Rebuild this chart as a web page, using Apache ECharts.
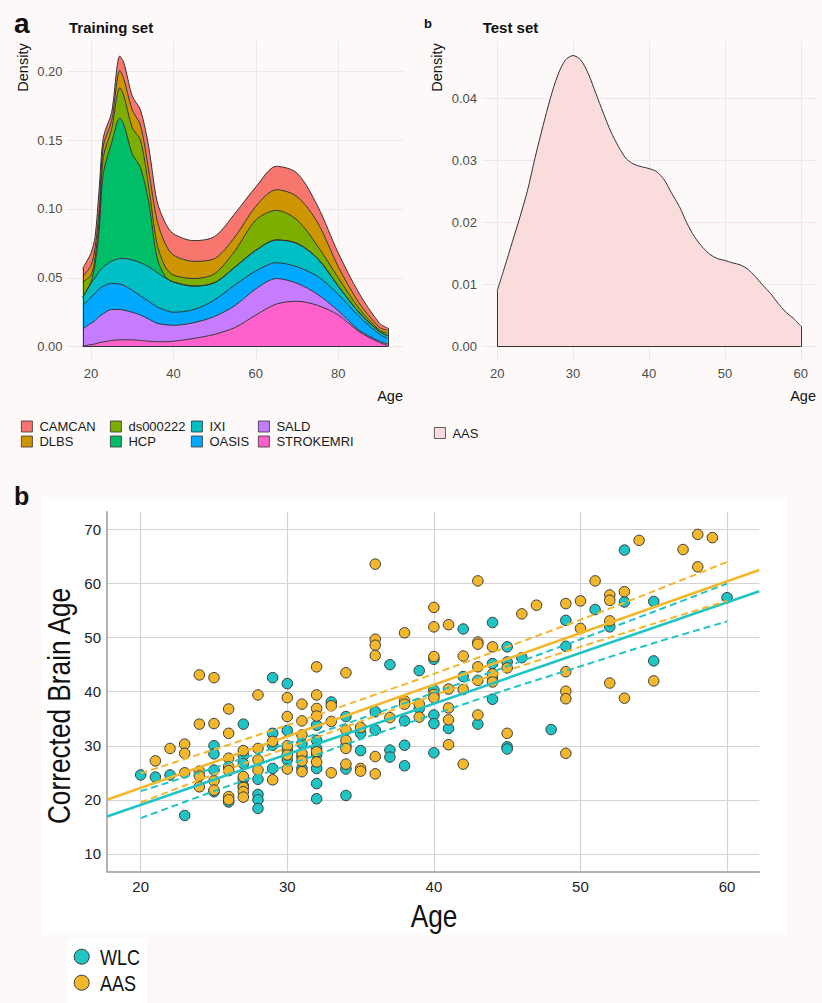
<!DOCTYPE html>
<html><head><meta charset="utf-8">
<script src="https://cdn.jsdelivr.net/npm/echarts@6/dist/echarts.min.js"></script>
<style>
html,body{margin:0;padding:0;background:#fcf9f8;}
#panel{position:absolute;left:42px;top:497px;width:743px;height:438px;background:#ffffff;}
#lg{position:absolute;left:68px;top:938px;width:79px;height:65px;background:#ffffff;}
#c{position:absolute;left:0;top:0;width:822px;height:1003px;}
</style>
</head><body>
<div id="panel"></div><div id="lg"></div>
<div id="c"></div>
<script>
// ---------- Panel a: training set stacked densities ----------
const trainAges = [18,20,21,22,23,25,27,28,30,32,34,36,38,40,45,50,55,60,65,70,75,80,85,90,92];
const strokemri = [0.0005,0.0015,0.002,0.003,0.0035,0.0045,0.005,0.005,0.005,0.0045,0.004,0.0036,0.0036,0.004,0.006,0.009,0.014,0.023,0.031,0.033,0.030,0.023,0.011,0.003,0.001];
const sald      = [0.0125,0.0155,0.017,0.019,0.0205,0.0225,0.022,0.0215,0.020,0.0185,0.016,0.0134,0.0124,0.0115,0.0115,0.013,0.016,0.019,0.0185,0.013,0.008,0.003,0.001,0.001,0.001];
const oasis     = [0.017,0.019,0.020,0.020,0.020,0.019,0.0185,0.018,0.016,0.014,0.013,0.012,0.0105,0.0095,0.0095,0.012,0.015,0.013,0.0115,0.012,0.013,0.012,0.010,0.005,0.004];
const ixi       = [0.006,0.010,0.011,0.013,0.014,0.016,0.0185,0.0195,0.022,0.024,0.025,0.025,0.0235,0.022,0.017,0.0125,0.013,0.015,0.0165,0.017,0.013,0.006,0.003,0.002,0.002];
const hcp       = [0,0.001,0.010,0.030,0.068,0.086,0.102,0.097,0.077,0.069,0.047,0.011,0.001,0,0,0,0,0,0,0,0,0,0,0,0];
const ds000222  = [0.011,0.005,0.005,0.007,0.012,0.010,0.022,0.021,0.019,0.020,0.011,0.010,0.007,0.005,0.0055,0.0065,0.012,0.022,0.0215,0.017,0.009,0.006,0.003,0.001,0.002];
const dlbs      = [0.004,0.007,0.007,0.008,0.008,0.006,0.0125,0.012,0.013,0.011,0.012,0.017,0.017,0.0145,0.0125,0.011,0.010,0.010,0.015,0.017,0.017,0.008,0.004,0.002,0.002];
const camcan    = [0.006,0.009,0.008,0.015,0.006,0.006,0.0105,0.012,0.010,0.011,0.017,0.014,0.015,0.0155,0.015,0.016,0.017,0.014,0.017,0.017,0.012,0.010,0.007,0.003,0.0015];

// ---------- Panel b: test set density ----------
const testAges = [20,21,22,23,24,25,26,27,28,29,30,31,32,33,34,35,36,37,38,39,40,41,42,43,44,45,46,47,48,49,50,51,52,53,54,55,56,57,58,59,60];
const aasDensity = [0.0090,0.0129,0.0169,0.0209,0.0252,0.0305,0.0354,0.0400,0.0438,0.0462,0.0469,0.0462,0.0440,0.0408,0.0376,0.0346,0.0322,0.0303,0.0294,0.0290,0.0287,0.0282,0.0269,0.0247,0.0226,0.0199,0.0177,0.0161,0.0149,0.0142,0.0139,0.0135,0.0132,0.0125,0.0113,0.0099,0.0086,0.0070,0.0056,0.0046,0.0033];

// ---------- Bottom panel: corrected brain age ----------
const wlcPoints = [[20,24.6],[21,24.2],[22,24.6],[23,17.1],
 [25,30.0],[25,28.5],[25,25.5],[25,21.5],[26,19.6],
 [27,34.0],[27,28.2],[27,26.7],[27,23.8],[27,22.6],
 [28,23.8],[28,21.0],[28,20.0],[28,18.4],
 [29,42.6],[29,32.3],[29,30.1],[29,25.8],
 [30,41.5],[30,32.8],[30,29.2],[30,27.4],
 [31,30.4],[31,28.0],[31,25.8],
 [32,33.8],[32,31.0],[32,29.5],[32,28.3],[32,25.8],[32,23.0],[32,20.2],
 [33,38.1],[34,35.4],[34,30.0],[34,25.7],[34,20.8],
 [35,32.3],[35,29.1],[36,36.3],[36,32.9],
 [37,45.0],[37,29.2],[37,27.9],
 [38,34.6],[38,30.1],[38,26.3],[39,43.9],[39,36.9],
 [40,46.0],[40,40.3],[40,35.7],[40,34.1],[40,28.7],
 [41,33.2],[42,51.6],[42,42.8],[43,34.0],
 [44,52.8],[44,45.2],[44,42.5],[44,38.6],
 [45,48.3],[45,45.5],[45,29.8],[45,29.4],
 [46,46.3],[48,33.0],[49,53.2],[49,48.4],[51,55.2],[52,52.0],
 [53,66.2],[53,56.6],[55,56.7],[55,45.7],[60,57.4]];
const aasPoints = [[21,27.2],[22,29.5],[23,30.3],[23,28.6],[23,25.0],
 [24,43.1],[24,34.0],[24,25.3],[24,24.4],[24,22.4],
 [25,42.6],[25,34.1],[25,23.5],[25,21.8],
 [26,36.8],[26,32.3],[26,27.7],[26,26.1],[26,25.4],[26,20.6],[26,20.0],
 [27,29.1],[27,24.3],[27,22.3],[27,21.5],[27,20.5],
 [28,39.4],[28,29.5],[28,27.4],[28,25.5],[29,30.8],[29,23.7],
 [30,38.9],[30,35.4],[30,30.0],[30,28.3],[30,25.7],
 [31,37.7],[31,34.6],[31,32.0],[31,28.6],[31,27.2],[31,25.2],
 [32,44.6],[32,39.4],[32,36.9],[32,35.5],[32,28.9],[32,27.0],
 [33,37.4],[33,34.5],[33,25.0],
 [34,43.5],[34,32.9],[34,31.0],[34,29.5],[34,26.6],
 [35,33.4],[35,25.8],[35,25.3],
 [36,63.6],[36,49.7],[36,48.6],[36,46.7],[36,28.0],[36,24.8],
 [37,35.2],[38,50.9],[38,38.3],[38,37.7],[39,37.7],[39,35.3],
 [40,55.6],[40,52.0],[40,46.5],[40,39.5],[40,38.9],
 [41,52.4],[41,40.5],[41,37.0],[41,34.8],[41,30.2],
 [42,46.6],[42,40.4],[42,26.6],
 [43,60.5],[43,49.2],[43,48.8],[43,44.6],[43,42.1],[43,35.7],
 [44,48.3],[44,43.3],[44,41.8],[45,44.4],[45,32.3],
 [46,54.4],[47,56.0],
 [49,56.3],[49,43.7],[49,40.1],[49,38.7],[49,28.6],
 [50,56.8],[50,51.7],[51,60.5],
 [52,57.9],[52,56.9],[52,53.1],[52,41.6],
 [53,58.5],[53,38.8],[54,68.0],[55,42.0],[57,66.3],[58,69.1],[58,63.1],[59,68.5]];
const aasFit = [[17.7,20.0],[62.2,62.5]];
const wlcFit = [[17.7,16.9],[62.2,58.6]];
const aasCiUpper = [[20,24.9],[25,29.3],[30,33.8],[35,38.5],[40,43.3],[45,48.3],[50,53.3],[55,58.6],[60,64.0]];
const aasCiLower = [[20,19.5],[25,24.7],[30,29.6],[35,34.5],[40,39.3],[45,43.9],[50,48.3],[55,52.6],[60,56.8]];
const wlcCiUpper = [[20,21.6],[25,25.9],[30,30.4],[35,35.0],[40,39.8],[45,44.7],[50,49.7],[55,54.8],[60,60.0]];
const wlcCiLower = [[20,16.6],[25,21.6],[30,26.4],[35,31.2],[40,35.8],[45,40.4],[50,44.7],[55,49.0],[60,53.0]];

// ---------- styling ----------
const FF = "'Liberation Sans', Arial, Helvetica, sans-serif";
const TEAL = '#1fc4c5', ORANGE = '#f3b72b', OUT = '#333333';
const layers = [
  {name:'STROKEMRI', color:'#FF61CC', values:strokemri},
  {name:'SALD', color:'#C77CFF', values:sald},
  {name:'OASIS', color:'#00A9FF', values:oasis},
  {name:'IXI', color:'#00BFC4', values:ixi},
  {name:'HCP', color:'#00BE67', values:hcp},
  {name:'ds000222', color:'#7CAE00', values:ds000222},
  {name:'DLBS', color:'#CD9600', values:dlbs},
  {name:'CAMCAN', color:'#F8766D', values:camcan}
];
const pairs = (xs, ys) => xs.map((x, i) => [x, ys[i]]);
// value first, age second: the stack is applied on the first (density) dimension
const valueAge = (xs, ys) => xs.map((x, i) => [ys[i], x]);
const lastI = trainAges.length - 1;
const totalFirst = layers.reduce((s, l) => s + l.values[0], 0);
const totalLast = layers.reduce((s, l) => s + l.values[lastI], 0);

const series = [];
layers.forEach(l => series.push({
  type:'line', name:l.name, xAxisIndex:0, yAxisIndex:0, stack:'train',
  data:valueAge(trainAges, l.values), encode:{x:1, y:0},
  smooth:0.3, symbol:'none', silent:true,
  itemStyle:{color:l.color}, lineStyle:{color:OUT, width:1},
  areaStyle:{color:l.color, opacity:1}
}));
const edge = (x0, y0, x1, y1) => [{coord:[x0, y0]}, {coord:[x1, y1]}];
series.push({
  type:'line', name:'trainEdges', xAxisIndex:0, yAxisIndex:0, data:[], silent:true,
  markLine:{silent:true, symbol:['none','none'], label:{show:false}, lineStyle:{color:OUT, width:1, type:'solid'},
    data:[edge(trainAges[0],0,trainAges[0],totalFirst), edge(trainAges[lastI],0,trainAges[lastI],totalLast), edge(trainAges[0],0,trainAges[lastI],0)]}
});
series.push({
  type:'line', name:'AAS', xAxisIndex:1, yAxisIndex:1, data:pairs(testAges, aasDensity),
  smooth:0.3, symbol:'none', silent:true, itemStyle:{color:'#fbdcdc'},
  lineStyle:{color:OUT, width:1}, areaStyle:{color:'#fbdcdc', opacity:1}
});
const tl = testAges.length - 1;
series.push({
  type:'line', name:'testEdges', xAxisIndex:1, yAxisIndex:1, data:[], silent:true,
  markLine:{silent:true, symbol:['none','none'], label:{show:false}, lineStyle:{color:OUT, width:1, type:'solid'},
    data:[edge(testAges[0],0,testAges[0],aasDensity[0]), edge(testAges[tl],0,testAges[tl],aasDensity[tl]), edge(testAges[0],0,testAges[tl],0)]}
});
series.push({type:'scatter', name:'WLC', xAxisIndex:2, yAxisIndex:2, data:wlcPoints, symbolSize:10.5,
  itemStyle:{color:TEAL, borderColor:'#3a3a3a', borderWidth:1, opacity:1}, z:3});
series.push({type:'scatter', name:'AAS', xAxisIndex:2, yAxisIndex:2, data:aasPoints, symbolSize:10.5,
  itemStyle:{color:ORANGE, borderColor:'#3a3a3a', borderWidth:1, opacity:1}, z:3});
const fitLine = (name, data, color, dashed) => ({
  type:'line', name, xAxisIndex:2, yAxisIndex:2, data, smooth:dashed ? 0.3 : false, symbol:'none', silent:true, z:4,
  lineStyle:{color, width:dashed ? 2 : 2.6, type:dashed ? [7,4] : 'solid'}
});
series.push(fitLine('wlcFit', wlcFit, TEAL, false));
series.push(fitLine('wlcCiUpper', wlcCiUpper, TEAL, true));
series.push(fitLine('wlcCiLower', wlcCiLower, TEAL, true));
series.push(fitLine('aasFit', aasFit, ORANGE, false));
series.push(fitLine('aasCiUpper', aasCiUpper, ORANGE, true));
series.push(fitLine('aasCiLower', aasCiLower, ORANGE, true));

const topX = (gi, min, max, split) => ({
  gridIndex:gi, type:'value', min, max, splitNumber:split,
  axisLine:{show:false}, axisTick:{show:false},
  axisLabel:{showMinLabel:false, showMaxLabel:false, fontSize:13, color:'#4d4d4d', margin:6, fontFamily:FF},
  splitLine:{show:true, showMinLine:false, showMaxLine:false, lineStyle:{color:'#ebe8e7', width:1}}
});
const topY = (gi, min, max, split) => ({
  gridIndex:gi, type:'value', min, max, splitNumber:split,
  axisLine:{show:false}, axisTick:{show:false},
  axisLabel:{showMinLabel:false, showMaxLabel:false, fontSize:13, color:'#4d4d4d', margin:5, fontFamily:FF,
    formatter:v => v.toFixed(2)},
  splitLine:{show:true, showMinLine:false, showMaxLine:false, lineStyle:{color:'#ebe8e7', width:1}}
});
const smallLegend = (left, top, data) => ({
  left, top, orient:'vertical', padding:0, itemWidth:11, itemHeight:11, itemGap:2, icon:'rect',
  selectedMode:false, data,
  itemStyle:{borderColor:OUT, borderWidth:0.8},
  textStyle:{fontSize:13, color:'#1a1a1a', fontFamily:FF, padding:[0,0,0,2]}
});
const txt = (x, y, text, font, extra) => Object.assign({type:'text', x, y, silent:true,
  style:{text, font, fill:'#111', textAlign:'left', verticalAlign:'middle'}}, extra || {});
const styled = (text, font, align) => ({text, font, fill:'#111', textAlign:align, verticalAlign:'middle'});

const option = {
  animation:false,
  backgroundColor:'transparent',
  textStyle:{fontFamily:FF},
  grid:[
    {left:67.5, top:41.5, width:335.5, height:319.8, outerBoundsMode:'none'},
    {left:482, top:41, width:334, height:320.3, outerBoundsMode:'none'},
    {left:107, top:511.7, width:652.3, height:360, outerBoundsMode:'none'}
  ],
  xAxis:[
    topX(0, 14.3, 95.7, 4),
    topX(1, 18, 62, 4),
    {gridIndex:2, type:'value', min:17.7, max:62.2, splitNumber:5,
     axisLine:{show:true, onZero:false, lineStyle:{color:'#9a9a9a', width:1.5}}, axisTick:{show:false},
     axisLabel:{showMinLabel:false, showMaxLabel:false, fontSize:15, color:'#222', margin:7, fontFamily:FF},
     splitLine:{show:true, showMinLine:false, showMaxLine:false, lineStyle:{color:'#d3d3d3', width:1.2}}}
  ],
  yAxis:[
    topY(0, -0.0106, 0.2216, 5),
    topY(1, -0.00235, 0.04925, 5),
    {gridIndex:2, type:'value', min:6.7, max:73.3, splitNumber:7,
     axisLine:{show:true, onZero:false, lineStyle:{color:'#9a9a9a', width:1.5}}, axisTick:{show:false},
     axisLabel:{showMinLabel:false, showMaxLabel:false, fontSize:15, color:'#222', margin:6, fontFamily:FF},
     splitLine:{show:true, showMinLine:false, showMaxLine:false, lineStyle:{color:'#d3d3d3', width:1.2}}}
  ],
  legend:[
    smallLegend(21, 420, ['CAMCAN','DLBS']),
    smallLegend(110, 420, ['ds000222','HCP']),
    smallLegend(191, 420, ['IXI','OASIS']),
    smallLegend(258, 420, ['SALD','STROKEMRI']),
    smallLegend(434, 426.5, [{name:'AAS', itemStyle:{color:'#fbdcdc'}}])
  ],
  graphic:[
    txt(14, 23, 'a', 'bold 28px ' + FF),
    txt(69, 27.5, 'Training set', 'bold 15px ' + FF),
    {type:'text', x:23, y:67.5, rotation:Math.PI/2, silent:true, style:styled('Density', '14.5px ' + FF, 'center')},
    {type:'text', x:403, y:396, silent:true, style:styled('Age', '14.5px ' + FF, 'right')},
    txt(424, 23.5, 'b', 'bold 13px ' + FF),
    txt(482.7, 27.5, 'Test set', 'bold 15px ' + FF),
    {type:'text', x:437, y:67.5, rotation:Math.PI/2, silent:true, style:styled('Density', '14.5px ' + FF, 'center')},
    {type:'text', x:816, y:396, silent:true, style:styled('Age', '14.5px ' + FF, 'right')},
    txt(14, 496, 'b', 'bold 25px ' + FF),
    {type:'text', x:59, y:706, rotation:Math.PI/2, scaleX:0.82, silent:true, style:styled('Corrected Brain Age', '32px ' + FF, 'center')},
    {type:'text', x:434, y:916, scaleX:0.82, silent:true, style:styled('Age', '32px ' + FF, 'center')},
    // bottom legend
    {type:'circle', silent:true, shape:{cx:81.7, cy:956.7, r:7.5}, style:{fill:TEAL, stroke:'#3a3a3a', lineWidth:1}},
    {type:'circle', silent:true, shape:{cx:81.7, cy:982.7, r:7.5}, style:{fill:ORANGE, stroke:'#3a3a3a', lineWidth:1}},
    {type:'text', x:100, y:957, scaleX:0.82, silent:true, style:styled('WLC', '22px ' + FF, 'left')},
    {type:'text', x:100, y:983, scaleX:0.82, silent:true, style:styled('AAS', '22px ' + FF, 'left')}
  ],
  series
};
const chart = echarts.init(document.getElementById('c'), null, {renderer:'svg', width:822, height:1003});
chart.setOption(option);
</script>
</body></html>
